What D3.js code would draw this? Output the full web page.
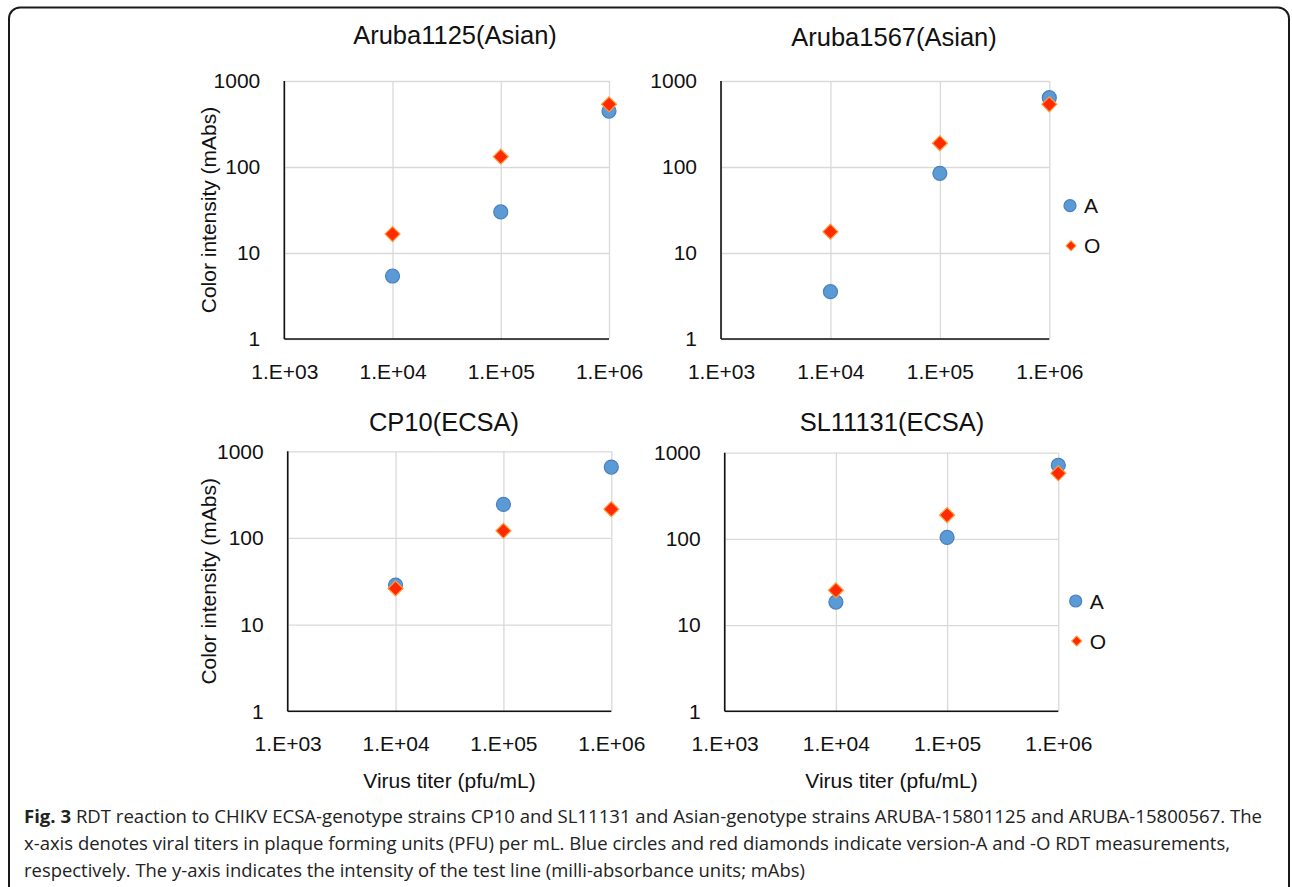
<!DOCTYPE html>
<html>
<head>
<meta charset="utf-8">
<script src="https://cdn.jsdelivr.net/npm/d3@7"></script>
<style>
  body { margin: 0; background: #fff; }
  svg { display: block; }
</style>
</head>
<body>
<svg id="chart" width="1292" height="887"></svg>
<script>

// data
var titers = [1e4, 1e5, 1e6]
var x_ticks = [1e3, 1e4, 1e5, 1e6]
var y_ticks = [1, 10, 100, 1000]
var panel_titles = ["Aruba1125(Asian)", "Aruba1567(Asian)", "CP10(ECSA)", "SL11131(ECSA)"]
var version_a = [
  [5.4, 30, 447],
  [3.55, 84.5, 640],
  [28.6, 244, 658],
  [18.5, 104, 714]
]
var version_o = [
  [16.6, 132, 535],
  [17.7, 189, 535],
  [26.2, 121, 215],
  [25.3, 189, 577]
]
var legend_labels = ["A", "O"]
var caption_lines = [
  [{t: "Fig. 3", b: true}, {t: " RDT reaction to CHIKV ECSA-genotype strains CP10 and SL11131 and Asian-genotype strains ARUBA-15801125 and ARUBA-15800567. The"}],
  [{t: "x-axis denotes viral titers in plaque forming units (PFU) per mL. Blue circles and red diamonds indicate version-A and -O RDT measurements,"}],
  [{t: "respectively. The y-axis indicates the intensity of the test line (milli-absorbance units; mAbs)"}]
]

// layout of the four panels
var panels = [
  {left: 284.3, right: 609, top: 81, bottom: 339, title_x: 455, title_y: 35, ylab: true, xlab: false, legend: false},
  {left: 721, right: 1049.3, top: 81, bottom: 339, title_x: 894, title_y: 37, ylab: false, xlab: false, legend: true, lx: 1070, ly: 205.7},
  {left: 287.7, right: 611.3, top: 451.3, bottom: 711.3, title_x: 444, title_y: 421.7, ylab: true, xlab: true, legend: false},
  {left: 724.7, right: 1058.3, top: 452.7, bottom: 711.3, title_x: 892, title_y: 421.7, ylab: false, xlab: true, legend: true, lx: 1075.7, ly: 601}
]

var font = "'Liberation Sans', Arial, sans-serif"
var blue_fill = "#5b9bd5", blue_stroke = "#4a7fc1"
var red_fill = "#ff2a00", red_stroke = "#ff9a3c"

var svg = d3.select("#chart")

// outer frame, rounded at the top, running off the bottom
svg.append("rect")
  .attr("x", 9).attr("y", 7.5)
  .attr("width", 1280).attr("height", 920)
  .attr("rx", 11).attr("ry", 11)
  .attr("fill", "none")
  .attr("stroke", "#1a1a1a")
  .attr("stroke-width", 2)

function diamond(size){
  return d3.symbol().type(d3.symbolSquare).size(size)()
}

panels.forEach(function(p, i){
  var x = d3.scaleLog().domain([1e3, 1e6]).range([p.left, p.right])
  var y = d3.scaleLog().domain([1, 1000]).range([p.bottom, p.top])
  var h = p.bottom - p.top
  var w = p.right - p.left
  var g = svg.append("g")

  // gridlines
  g.append("g")
    .attr("transform", "translate(0," + p.bottom + ")")
    .call(d3.axisBottom(x).tickValues(x_ticks).tickSize(-h).tickFormat(""))
    .call(function(s){ s.select(".domain").remove() })
    .selectAll("line").attr("stroke", "#d9d9d9").attr("stroke-width", 1.3)
  g.append("g")
    .attr("transform", "translate(" + p.left + ",0)")
    .call(d3.axisLeft(y).tickValues(y_ticks).tickSize(-w).tickFormat(""))
    .call(function(s){ s.select(".domain").remove() })
    .selectAll("line").attr("stroke", "#d9d9d9").attr("stroke-width", 1.3)

  // tick labels
  var xa = g.append("g")
    .attr("transform", "translate(0," + p.bottom + ")")
    .call(d3.axisBottom(x).tickValues(x_ticks).tickSize(0).tickPadding(25)
      .tickFormat(function(d){ return "1.E+0" + Math.round(Math.log10(d)) }))
  xa.select(".domain").remove()
  xa.selectAll("text").attr("font-family", font).attr("font-size", 21).attr("fill", "#111")

  var ya = g.append("g")
    .attr("transform", "translate(" + p.left + ",0)")
    .call(d3.axisLeft(y).tickValues(y_ticks).tickSize(0).tickPadding(24)
      .tickFormat(d3.format("d")))
  ya.select(".domain").remove()
  ya.selectAll("text").attr("font-family", font).attr("font-size", 21).attr("fill", "#111")

  // black axis lines
  g.append("line")
    .attr("x1", p.left).attr("x2", p.left)
    .attr("y1", p.top).attr("y2", p.bottom)
    .attr("stroke", "#111").attr("stroke-width", 1.6)
  g.append("line")
    .attr("x1", p.left).attr("x2", p.right)
    .attr("y1", p.bottom).attr("y2", p.bottom)
    .attr("stroke", "#111").attr("stroke-width", 1.6)

  // title
  g.append("text")
    .attr("x", p.title_x).attr("y", p.title_y)
    .attr("text-anchor", "middle").attr("dominant-baseline", "central")
    .attr("font-family", font).attr("font-size", 25.5).attr("fill", "#111")
    .text(panel_titles[i])

  if (p.ylab) {
    g.append("text")
      .attr("transform", "translate(208.5," + (p.top + h / 2) + ") rotate(-90)")
      .attr("text-anchor", "middle").attr("dominant-baseline", "central")
      .attr("font-family", font).attr("font-size", 21).attr("fill", "#111")
      .text("Color intensity (mAbs)")
  }
  if (p.xlab) {
    g.append("text")
      .attr("x", p.left + w / 2).attr("y", 780)
      .attr("text-anchor", "middle").attr("dominant-baseline", "central")
      .attr("font-family", font).attr("font-size", 21).attr("fill", "#111")
      .text("Virus titer (pfu/mL)")
  }

  // points: A circles first, O diamonds on top
  g.selectAll(".pa").data(version_a[i]).enter().append("circle")
    .attr("cx", function(d, k){ return x(titers[k]) })
    .attr("cy", function(d){ return y(d) })
    .attr("r", 7)
    .attr("fill", blue_fill).attr("stroke", blue_stroke).attr("stroke-width", 1.2)

  g.selectAll(".po").data(version_o[i]).enter().append("path")
    .attr("d", diamond(112))
    .attr("transform", function(d, k){ return "translate(" + x(titers[k]) + "," + y(d) + ") rotate(45)" })
    .attr("fill", red_fill).attr("stroke", red_stroke).attr("stroke-width", 1.2)

  if (p.legend) {
    var lg = g.append("g").attr("transform", "translate(" + p.lx + "," + p.ly + ")")
    lg.append("circle").attr("cx", 0).attr("cy", 0).attr("r", 6)
      .attr("fill", blue_fill).attr("stroke", blue_stroke).attr("stroke-width", 1.2)
    lg.append("path").attr("d", diamond(50))
      .attr("transform", "translate(1,40) rotate(45)")
      .attr("fill", red_fill).attr("stroke", red_stroke).attr("stroke-width", 1)
    lg.selectAll("text").data(legend_labels).enter().append("text")
      .attr("x", 14).attr("y", function(d, k){ return k * 40 })
      .attr("dominant-baseline", "central")
      .attr("font-family", font).attr("font-size", 21).attr("fill", "#111")
      .text(function(d){ return d })
  }
})

// caption
var cap_widths = [1238, 1206, 781]
var cap_base = [823, 850, 876.5]
caption_lines.forEach(function(parts, i){
  var t = svg.append("text")
    .attr("x", 24).attr("y", cap_base[i])
    .attr("font-family", "'Open Sans', sans-serif")
    .attr("font-size", 17.5).attr("fill", "#222")
    .attr("textLength", cap_widths[i])
    .attr("lengthAdjust", "spacingAndGlyphs")
  parts.forEach(function(pt){
    t.append("tspan")
      .attr("font-weight", pt.b ? "bold" : null)
      .text(pt.t)
  })
})

</script>
</body>
</html>
